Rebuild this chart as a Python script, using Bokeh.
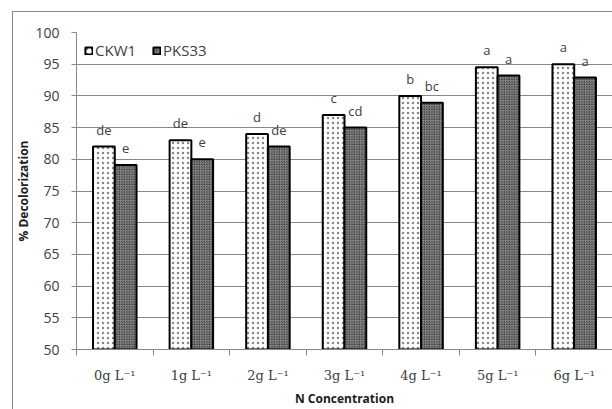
import numpy as np
from bokeh.plotting import figure
from bokeh.layouts import column
from bokeh.models import (ColumnDataSource, Range1d, FixedTicker, Legend, LegendItem, Div)
from bokeh.core.properties import value
from bokeh.embed import file_html
from bokeh.resources import INLINE

# N concentration levels and % decolorization for the two strains
categories = ["0g L\u207b\u00b9", "1g L\u207b\u00b9", "2g L\u207b\u00b9", "3g L\u207b\u00b9",
              "4g L\u207b\u00b9", "5g L\u207b\u00b9", "6g L\u207b\u00b9"]
ckw1 = [82.0, 83.0, 84.0, 87.0, 90.0, 94.5, 95.0]
pks33 = [79.1, 80.0, 82.0, 85.0, 88.9, 93.2, 92.9]
ckw1_letters = ["de", "de", "d", "c", "b", "a", "a"]
pks33_letters = ["e", "e", "de", "cd", "bc", "a", "a"]
y_ticks = list(range(50, 101, 5))

SANS = "Open Sans"
SERIF = "DejaVu Serif"
GRID = "#888888"
TEXT = "#404040"

n = len(categories)
centers = np.arange(n) + 0.5
bar_w = 0.284

src_a = ColumnDataSource(dict(x=centers - bar_w / 2, top=ckw1, lab=ckw1_letters))
src_b = ColumnDataSource(dict(x=centers + bar_w / 2, top=pks33, lab=pks33_letters))

p = figure(width=612, height=409, output_backend="svg", toolbar_location=None,
           x_range=Range1d(0, n), y_range=Range1d(50, 100),
           min_border_left=76, min_border_right=0, min_border_top=32, min_border_bottom=59,
           margin=0)
p.outline_line_color = None
p.background_fill_color = "white"
p.border_fill_color = "white"

r_a = p.vbar(x="x", top="top", bottom=50, width=bar_w, source=src_a,
             fill_color="white", line_color="black", line_width=2,
             hatch_pattern="dot", hatch_color="#888888", hatch_scale=5, hatch_weight=0.5)
r_b = p.vbar(x="x", top="top", bottom=50, width=bar_w, source=src_b,
             fill_color="#a0a0a0", line_color="black", line_width=2,
             hatch_pattern="criss_cross", hatch_color="#303030", hatch_scale=2.5, hatch_weight=0.5)

for src in (src_a, src_b):
    p.text(x="x", y="top", text="lab", source=src, text_align="center",
           text_baseline="middle", y_offset=-17, text_font=value(SANS),
           text_font_size="13px", text_color=TEXT)

# axes
p.xaxis.ticker = FixedTicker(ticks=list(centers), minor_ticks=list(range(n + 1)))
p.xaxis.major_label_overrides = {float(c): lab for c, lab in zip(centers, categories)}
p.xaxis.major_tick_line_color = None
p.xaxis.minor_tick_line_color = GRID
p.xaxis.minor_tick_out = 6
p.xaxis.minor_tick_in = 0
p.xaxis.axis_line_color = GRID
p.xaxis.major_label_standoff = 12
p.xaxis.major_label_text_font = SERIF
p.xaxis.major_label_text_font_size = "13px"
p.xaxis.major_label_text_color = TEXT
p.xaxis.axis_label = "N Concentration"
p.xaxis.axis_label_standoff = 4
p.xaxis.axis_label_text_font = SANS
p.xaxis.axis_label_text_font_size = "12px"
p.xaxis.axis_label_text_font_style = "bold"
p.xaxis.axis_label_text_color = "#202020"

p.yaxis.ticker = FixedTicker(ticks=y_ticks)
p.yaxis.minor_tick_line_color = None
p.yaxis.major_tick_line_color = GRID
p.yaxis.major_tick_out = 5
p.yaxis.major_tick_in = 0
p.yaxis.axis_line_color = GRID
p.yaxis.major_label_standoff = 12
p.yaxis.major_label_text_font = SANS
p.yaxis.major_label_text_font_size = "14px"
p.yaxis.major_label_text_color = TEXT
p.yaxis.axis_label = "% Decolorization"
p.yaxis.axis_label_standoff = 0
p.yaxis.axis_label_text_font = SANS
p.yaxis.axis_label_text_font_size = "12px"
p.yaxis.axis_label_text_font_style = "bold"
p.yaxis.axis_label_text_color = "#202020"

p.xgrid.grid_line_color = None
p.ygrid.grid_line_color = GRID
p.ygrid.grid_line_width = 1

legend = Legend(items=[LegendItem(label="CKW1", renderers=[r_a]),
                       LegendItem(label="PKS33", renderers=[r_b])],
                orientation="horizontal", location=(8, 289),
                glyph_width=9, glyph_height=9, label_standoff=2, spacing=16,
                padding=2, margin=0, label_height=14,
                label_text_font=SANS, label_text_font_size="15px",
                label_text_color=TEXT, border_line_color=None,
                background_fill_alpha=0)
p.add_layout(legend)

# thin frame around the whole chart area, laid over the canvas
frame_box = Div(text='<div style="position:fixed; left:12px; top:11px; width:700px; '
                     'height:500px; border-left:1px solid #888888; border-top:1px solid #888888; '
                     'pointer-events:none; z-index:10;"></div>',
                width=0, height=0, margin=0)

page = column(frame_box, p, spacing=0, margin=0)

open("out.html", "w").write(file_html(page, INLINE))
